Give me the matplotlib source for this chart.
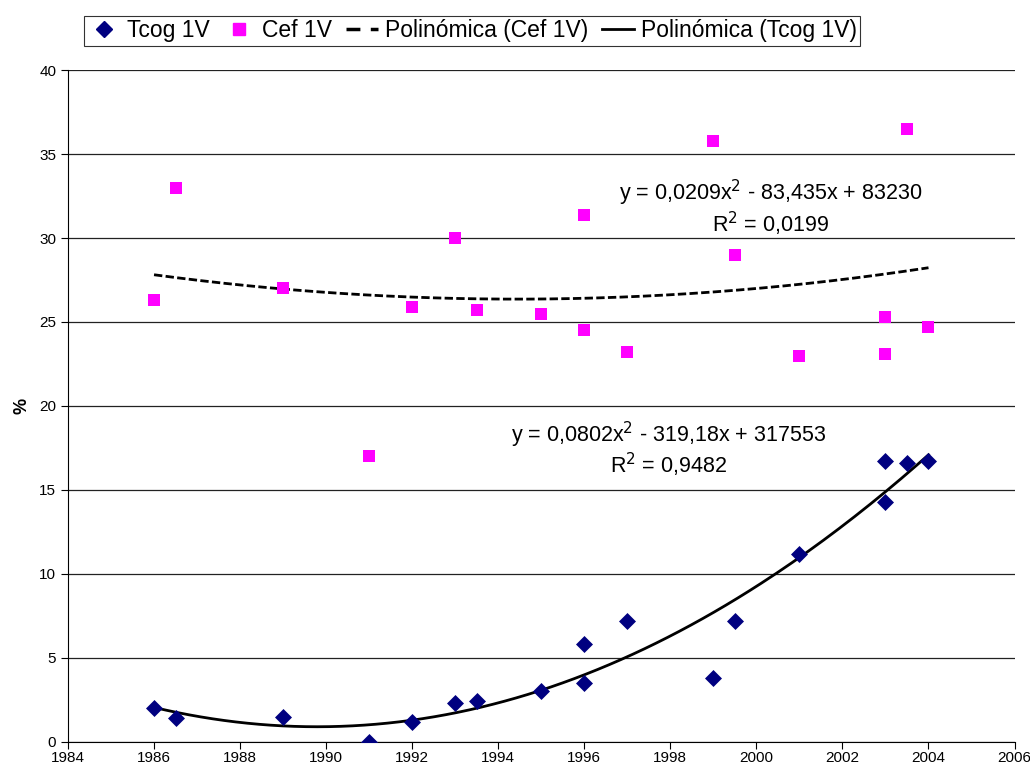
import numpy as np
import matplotlib
matplotlib.use("Agg")
import matplotlib.pyplot as plt
from matplotlib.lines import Line2D

plt.rcParams['font.family'] = ['Liberation Sans', 'DejaVu Sans']

# Survey years and percentages
years = [1986, 1986.5, 1989, 1991, 1992, 1993, 1993.5, 1995, 1996, 1996,
         1997, 1999, 1999.5, 2001, 2003, 2003, 2003.5, 2004]
tcog = [2.0, 1.4, 1.5, 0.0, 1.2, 2.3, 2.4, 3.0, 5.8, 3.5,
        7.2, 3.8, 7.2, 11.2, 16.7, 14.3, 16.6, 16.7]
cef = [26.3, 33.0, 27.0, 17.0, 25.9, 30.0, 25.7, 25.5, 31.4, 24.5,
       23.2, 35.8, 29.0, 23.0, 25.3, 23.1, 36.5, 24.7]

eq_cef = "y = 0,0209x$^{2}$ - 83,435x + 83230\nR$^{2}$ = 0,0199"
eq_tcog = "y = 0,0802x$^{2}$ - 319,18x + 317553\nR$^{2}$ = 0,9482"

xticks = list(range(1984, 2007, 2))
yticks = list(range(0, 41, 5))

fig = plt.figure(figsize=(10.30, 7.71), dpi=100)
ax = fig.add_axes([0.066, 0.038, 0.919, 0.871])

ax.set_xlim(1984, 2006)
ax.set_ylim(0, 40)
ax.set_xticks(xticks)
ax.set_yticks(yticks)
ax.tick_params(axis='both', labelsize=11, direction='out', length=5, width=0.8)
ax.tick_params(axis='x', pad=2)
ax.yaxis.grid(True, color='#222222', linewidth=0.9)
ax.set_axisbelow(True)
for s in ['top', 'right']:
    ax.spines[s].set_visible(False)
ax.spines['left'].set_color('black')
ax.spines['bottom'].set_color('black')
ax.set_ylabel('%', fontsize=13, fontweight='bold', labelpad=6)

x = np.asarray(years)
xs = np.linspace(min(years), max(years), 200)
# Second-order polynomial trend lines fitted to each series
p_cef = np.polyfit(x - 1995, cef, 2)
p_tcog = np.polyfit(x - 1995, tcog, 2)
ax.plot(xs, np.polyval(p_cef, xs - 1995), color='black', lw=2.0,
        linestyle=(0, (3, 1.2)), zorder=3)
ax.plot(xs, np.polyval(p_tcog, xs - 1995), color='black', lw=2.0, zorder=3)

ax.scatter(years, tcog, marker='D', s=75, color='#000080', zorder=4,
           linewidths=0)
ax.scatter(years, cef, marker='s', s=75, color='#FF00FF', zorder=4,
           linewidths=0)

ax.text(2000.33, 31.8, eq_cef, ha='center', va='center', fontsize=15.5,
        linespacing=1.05, zorder=5)
ax.text(1997.96, 17.4, eq_tcog, ha='center', va='center', fontsize=15.5,
        linespacing=1.05, zorder=5)

handles = [
    Line2D([], [], marker='D', color='#000080', linestyle='none', markersize=8),
    Line2D([], [], marker='s', color='#FF00FF', linestyle='none', markersize=8),
    Line2D([], [], color='black', lw=2.5, linestyle=(0, (4, 3))),
    Line2D([], [], color='black', lw=2.0),
]
labels = ['Tcog 1V', 'Cef 1V', 'Polinómica (Cef 1V)', 'Polinómica (Tcog 1V)']
leg = fig.legend(handles, labels, loc='center', bbox_to_anchor=(0.4587, 0.9598),
                 ncol=4, fontsize=16.5, frameon=True, fancybox=False,
                 edgecolor='black', handlelength=1.4, handletextpad=0.3,
                 columnspacing=0.6, borderpad=0.15)
leg.get_frame().set_linewidth(0.8)

fig.savefig('out.png', dpi=100, facecolor='white')
